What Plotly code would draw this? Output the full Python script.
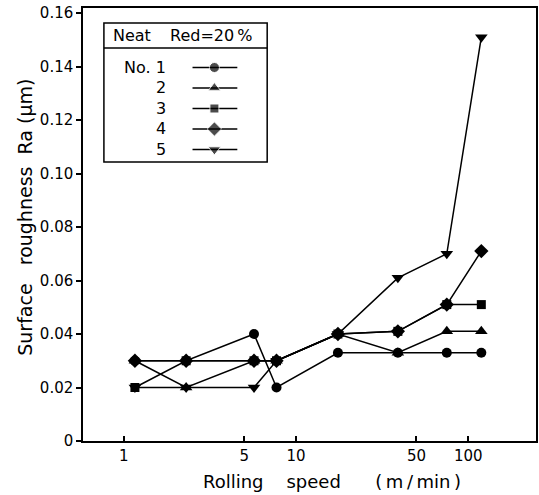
import plotly.graph_objects as go

# ---- data ----
speed = [1.16, 2.3, 5.7, 7.7, 17.5, 39, 75, 119]
no1 = [0.030, 0.030, 0.040, 0.020, 0.033, 0.033, 0.033, 0.033]
no2 = [0.030, 0.020, 0.030, 0.030, 0.040, 0.033, 0.041, 0.041]
no3 = [0.020, 0.030, 0.030, 0.030, 0.040, 0.041, 0.051, 0.051]
no4 = [0.030, 0.030, 0.030, 0.030, 0.040, 0.041, 0.051, 0.071]
no5 = [0.020, 0.020, 0.020, 0.030, 0.040, 0.061, 0.070, 0.151]
series_names = ["No. 1", "2", "3", "4", "5"]
series_vals = [no1, no2, no3, no4, no5]
symbols = ["circle", "triangle-up", "square", "diamond", "triangle-down"]
msizes = [10, 11, 9, 11, 11]

xtick_vals = [1, 5, 10, 50, 100]
xtick_text = ["1", "5", "10", "50", "100"]
ytick_vals = [0, 0.02, 0.04, 0.06, 0.08, 0.10, 0.12, 0.14, 0.16]
ytick_text = ["0", "0.02", "0.04", "0.06", "0.08", "0.10", "0.12", "0.14", "0.16"]

# ---- layout constants (pixels) ----
W, H = 539, 495
L, R, T, B = 83, 1, 8, 54
PW, PH = W - L - R, H - T - B
FONT = "DejaVu Sans"

def px(x):
    return (x - L) / PW

def py(y):
    return (H - B - y) / PH

fig = go.Figure()
for name, vals, sym, ms in zip(series_names, series_vals, symbols, msizes):
    fig.add_trace(go.Scatter(
        x=speed, y=vals, mode="lines+markers", name=name,
        line=dict(color="black", width=1.5),
        marker=dict(symbol=sym, size=ms, color="black"),
        showlegend=False))

# legend samples in an inset axis (pixel coordinates of the legend box)
box_l, box_r, box_t, box_b, head_y = 104, 268, 23, 162, 48
row_y = [67.5, 88, 108.5, 129, 149.5]
for name, sym, ms, ry in zip(series_names, symbols, msizes, row_y):
    fig.add_trace(go.Scatter(
        x=[193, 215, 238], y=[ry, ry, ry], mode="lines+markers",
        line=dict(color="black", width=1.5),
        marker=dict(symbol=sym, size=[0, ms, 0], color="black"),
        xaxis="x2", yaxis="y2", showlegend=False, hoverinfo="skip"))

axis_font = dict(family=FONT, size=15, color="black")
fig.update_layout(
    width=W, height=H,
    margin=dict(l=L, r=R, t=T, b=B),
    paper_bgcolor="white", plot_bgcolor="white",
    font=dict(family=FONT, size=16, color="black"),
    xaxis=dict(type="log", range=[-0.237, 2.393], tickvals=xtick_vals, ticktext=xtick_text,
               ticks="inside", ticklen=5, tickwidth=1.5, tickcolor="black",
               showline=True, linecolor="black", linewidth=1.5, mirror=True,
               showgrid=False, zeroline=False, tickfont=axis_font),
    yaxis=dict(range=[0, 0.1619], tickvals=ytick_vals, ticktext=ytick_text,
               ticks="outside", ticklen=5, tickwidth=1.5, tickcolor="black",
               showline=True, linecolor="black", linewidth=1.5, mirror=True,
               showgrid=False, zeroline=False, tickfont=axis_font),
    xaxis2=dict(domain=[px(box_l), px(box_r)], range=[box_l, box_r], visible=False,
                anchor="y2", fixedrange=True),
    yaxis2=dict(domain=[py(box_b), py(box_t)], range=[box_b, box_t], visible=False,
                anchor="x2", fixedrange=True),
)

def note(text, x, y, xanchor="center", size=16, angle=0):
    fig.add_annotation(text=text, xref="paper", yref="paper", x=px(x), y=py(y),
                       xanchor=xanchor, yanchor="middle", textangle=angle,
                       showarrow=False, font=dict(family=FONT, size=size, color="black"))

# legend box
fig.add_shape(type="rect", xref="paper", yref="paper",
              x0=px(box_l), x1=px(box_r), y0=py(box_b), y1=py(box_t),
              line=dict(color="black", width=1.5), fillcolor="rgba(0,0,0,0)")
fig.add_shape(type="line", xref="paper", yref="paper",
              x0=px(box_l), x1=px(box_r), y0=py(head_y), y1=py(head_y),
              line=dict(color="black", width=1.5))
nb = "\u00a0"
th = "\u2009"
note("Neat", 132, 36)
note("Red=20" + th + "%", 212, 36)
for name, ry in zip(series_names, row_y):
    note(name, 168, ry, xanchor="right")

# axis titles
note("Rolling" + nb * 4 + "speed" + nb * 6 + "(" + th + "m" + th + "/" + th + "min" + th + ")",
     333, 482, size=18)
note("Surface" + nb * 3 + "roughness" + nb * 2 + "Ra" + nb + "(\u00b5m)",
     24, 217.5, size=19, angle=-90)

fig.write_html("out.html")
